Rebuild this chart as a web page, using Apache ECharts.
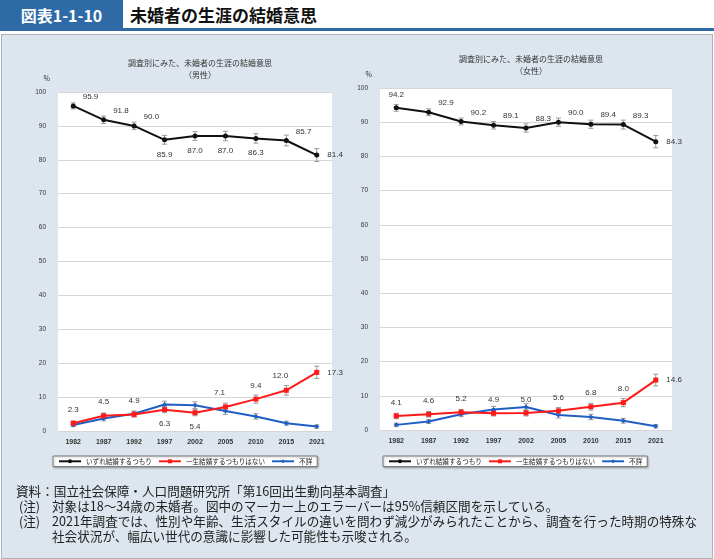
<!DOCTYPE html>
<html><head><meta charset="utf-8">
<script src="https://cdn.jsdelivr.net/npm/echarts@6/dist/echarts.min.js"></script>
<style>
html,body{margin:0;padding:0;width:714px;height:559px;overflow:hidden;background:#fff;font-family:"Noto Sans CJK JP","Noto Sans",sans-serif;}
#hdrBlue{position:absolute;left:0;top:0;width:123px;height:31px;background:#2e6aa6;color:#fff;font-weight:bold;font-size:16px;line-height:31px;text-align:center;}
#hdrLine{position:absolute;left:123px;top:28px;width:591px;height:3px;background:#2e6aa6;}
#hdrTitle{position:absolute;left:130px;top:0;height:28px;line-height:29px;font-weight:bold;font-size:17px;color:#111;}
#panel{position:absolute;left:1px;top:34px;width:710px;height:523px;background:#dde6ee;border:1px solid #a9b3bc;}
#chart{position:absolute;left:0;top:0;width:714px;height:559px;}
.note{position:absolute;font-size:12.6px;color:#222;white-space:nowrap;}
</style></head>
<body>
<div id="hdrBlue">図表1-1-10</div>
<div id="hdrLine"></div>
<div id="hdrTitle">未婚者の生涯の結婚意思</div>
<div id="panel"></div>
<div id="chart"></div>
<div class="note" style="left:16px;top:481px;">資料：国立社会保障・人口問題研究所「第16回出生動向基本調査」</div>
<div class="note" style="left:19px;top:496px;">(注)</div>
<div class="note" style="left:52px;top:496px;">対象は18～34歳の未婚者。図中のマーカー上のエラーバーは95%信頼区間を示している。</div>
<div class="note" style="left:19px;top:511px;">(注)</div>
<div class="note" style="left:52px;top:511px;">2021年調査では、性別や年齢、生活スタイルの違いを問わず減少がみられたことから、調査を行った時期の特殊な</div>
<div class="note" style="left:52px;top:526px;">社会状況が、幅広い世代の意識に影響した可能性も示唆される。</div>
<script>
// ---- data ----
const years = ['1982','1987','1992','1997','2002','2005','2010','2015','2021'];
const seriesNames = ['いずれ結婚するつもり','一生結婚するつもりはない','不詳'];
const menIntend   = [95.9, 91.8, 90.0, 85.9, 87.0, 87.0, 86.3, 85.7, 81.4];
const menNever    = [2.3, 4.5, 4.9, 6.3, 5.4, 7.1, 9.4, 12.0, 17.3];
const menUnknown  = [1.8, 3.7, 5.1, 7.8, 7.6, 5.9, 4.3, 2.3, 1.3];
const womenIntend  = [94.2, 92.9, 90.2, 89.1, 88.3, 90.0, 89.4, 89.3, 84.3];
const womenNever   = [4.1, 4.6, 5.2, 4.9, 5.0, 5.6, 6.8, 8.0, 14.6];
const womenUnknown = [1.5, 2.5, 4.6, 6.0, 6.7, 4.4, 3.8, 2.7, 1.1];
// 95% CI half-widths (estimated from error bars in picture)
const menIntendErr   = [0.9, 1.1, 1.1, 1.3, 1.3, 1.4, 1.4, 1.6, 1.9];
const menNeverErr    = [0.6, 0.8, 0.8, 0.9, 0.9, 1.1, 1.2, 1.4, 1.8];
const menUnknownErr  = [0.5, 0.7, 0.8, 1.0, 1.0, 1.0, 0.8, 0.6, 0.5];
const womenIntendErr  = [1.0, 1.0, 1.0, 1.1, 1.2, 1.2, 1.2, 1.3, 1.8];
const womenNeverErr   = [0.8, 0.8, 0.8, 0.8, 0.9, 1.0, 1.0, 1.2, 1.7];
const womenUnknownErr = [0.5, 0.6, 0.7, 0.9, 1.0, 0.9, 0.8, 0.7, 0.5];
const yTicks = [0,10,20,30,40,50,60,70,80,90,100];

// ---- styles ----
const FONT = '"Noto Sans CJK JP","Noto Sans",sans-serif';
const colors = ['#111111','#ff1a1a','#1f5fc4'];
const symbols = ['circle','rect','diamond'];
const menIntendPos = ['tr','tr','tr','bottom','bottom','bottom','bottom','tr','right'];
const menNeverPos  = ['top','top','top','bottom','bottom','tl','top','tl','right'];
const womenIntendPos = ['top','tr','tr','tr','tr','tr','tr','tr','right'];
const womenNeverPos  = ['top','top','top','top','top','top','top','top','right'];

function labelFor(p){
  const base = {show:true,fontSize:8,color:'#333',fontFamily:'Arial, "Liberation Sans", sans-serif',
    formatter:(o)=>o.value.toFixed(1)};
  if(p==='tr') return Object.assign(base,{position:'right',offset:[2,-9]});
  if(p==='tl') return Object.assign(base,{position:'top',offset:[-6,-3]});
  if(p==='right') return Object.assign(base,{position:'right',offset:[3,0]});
  if(p==='bottom') return Object.assign(base,{position:'bottom',offset:[0,3]});
  return Object.assign(base,{position:'top',offset:[0,-2]});
}
function mkSeries(idx, name, vals, pos, gi){
  return {
    name:name, type:'line', xAxisIndex:gi, yAxisIndex:gi,
    data: vals.map((v,i)=>({value:v, label: pos? labelFor(pos[i]) : {show:false}})),
    symbol:symbols[idx], symbolSize:5, showSymbol:true,
    lineStyle:{color:colors[idx],width:2}, itemStyle:{color:colors[idx]},
    z: idx===1?4:3, animation:false
  };
}
function mkErr(vals, errs, gi){
  return {
    type:'custom', xAxisIndex:gi, yAxisIndex:gi, z:2, silent:true, animation:false,
    data: vals.map((v,i)=>[i, v-errs[i], v+errs[i]]),
    renderItem:function(params, api){
      const lo = api.coord([api.value(0), api.value(1)]);
      const hi = api.coord([api.value(0), api.value(2)]);
      const w = 2.5;
      const st = {stroke:'#9a9a9a', lineWidth:1};
      return {type:'group', children:[
        {type:'line', shape:{x1:lo[0],y1:lo[1],x2:hi[0],y2:hi[1]}, style:st},
        {type:'line', shape:{x1:hi[0]-w,y1:hi[1],x2:hi[0]+w,y2:hi[1]}, style:st},
        {type:'line', shape:{x1:lo[0]-w,y1:lo[1],x2:lo[0]+w,y2:lo[1]}, style:st}
      ]};
    }
  };
}
const grids = [
  {left:58, top:92, width:274, height:339, show:true, backgroundColor:'#fff', borderWidth:0},
  {left:380, top:88, width:292, height:342, show:true, backgroundColor:'#fff', borderWidth:0}
];
function xAx(gi){return {type:'category',gridIndex:gi,data:years,boundaryGap:true,
  axisLine:{show:false},axisTick:{show:false},
  axisLabel:{fontSize:7,color:'#333',margin:8,fontFamily:'Arial, sans-serif',fontWeight:'bold'}};}
function yAx(gi){return {type:'value',gridIndex:gi,min:yTicks[0],max:yTicks[yTicks.length-1],interval:10,
  name:'%',nameLocation:'end',nameGap:10,nameTextStyle:{fontSize:7,color:'#333',align:'right',padding:[0,8,0,0]},
  axisLine:{show:false},axisTick:{show:false},
  splitLine:{lineStyle:{color:'#d6d6d6',width:1}},
  axisLabel:{fontSize:6.5,color:'#333',margin:12,fontFamily:'Arial, sans-serif'}};}
function legendAt(left){
  return {left:left, top:456, orient:'horizontal', data:seriesNames,
    backgroundColor:'#fff', borderColor:'#777', borderWidth:1, padding:[2,5],
    itemWidth:22, itemHeight:5, itemGap:6,
    textStyle:{fontSize:6.6,color:'#222',fontFamily:FONT}, selectedMode:false,
    shadowColor:'rgba(0,0,0,0.25)', shadowBlur:2, shadowOffsetX:1, shadowOffsetY:1};
}
const chart = echarts.init(document.getElementById('chart'), null, {renderer:'canvas'});
chart.setOption({
  backgroundColor:'transparent',
  animation:false,
  textStyle:{fontFamily:FONT},
  title:[
    {text:'調査別にみた、未婚者の生涯の結婚意思\n（男性）', left:195, top:52, textAlign:'center',
     textStyle:{fontSize:8,fontWeight:'normal',color:'#333',lineHeight:12,fontFamily:FONT}},
    {text:'調査別にみた、未婚者の生涯の結婚意思\n（女性）', left:526, top:48, textAlign:'center',
     textStyle:{fontSize:8,fontWeight:'normal',color:'#333',lineHeight:12,fontFamily:FONT}}
  ],
  legend:[legendAt(53), legendAt(383)],
  grid:grids,
  xAxis:[xAx(0),xAx(1)],
  yAxis:[yAx(0),yAx(1)],
  series:[
    mkErr(menIntend,menIntendErr,0),
    mkErr(menNever,menNeverErr,0),
    mkErr(menUnknown,menUnknownErr,0),
    mkErr(womenIntend,womenIntendErr,1),
    mkErr(womenNever,womenNeverErr,1),
    mkErr(womenUnknown,womenUnknownErr,1),
    mkSeries(0,seriesNames[0],menIntend,menIntendPos,0),
    mkSeries(1,seriesNames[1],menNever,menNeverPos,0),
    mkSeries(2,seriesNames[2],menUnknown,null,0),
    mkSeries(0,seriesNames[0],womenIntend,womenIntendPos,1),
    mkSeries(1,seriesNames[1],womenNever,womenNeverPos,1),
    mkSeries(2,seriesNames[2],womenUnknown,null,1)
  ]
});
</script>
</body></html>
